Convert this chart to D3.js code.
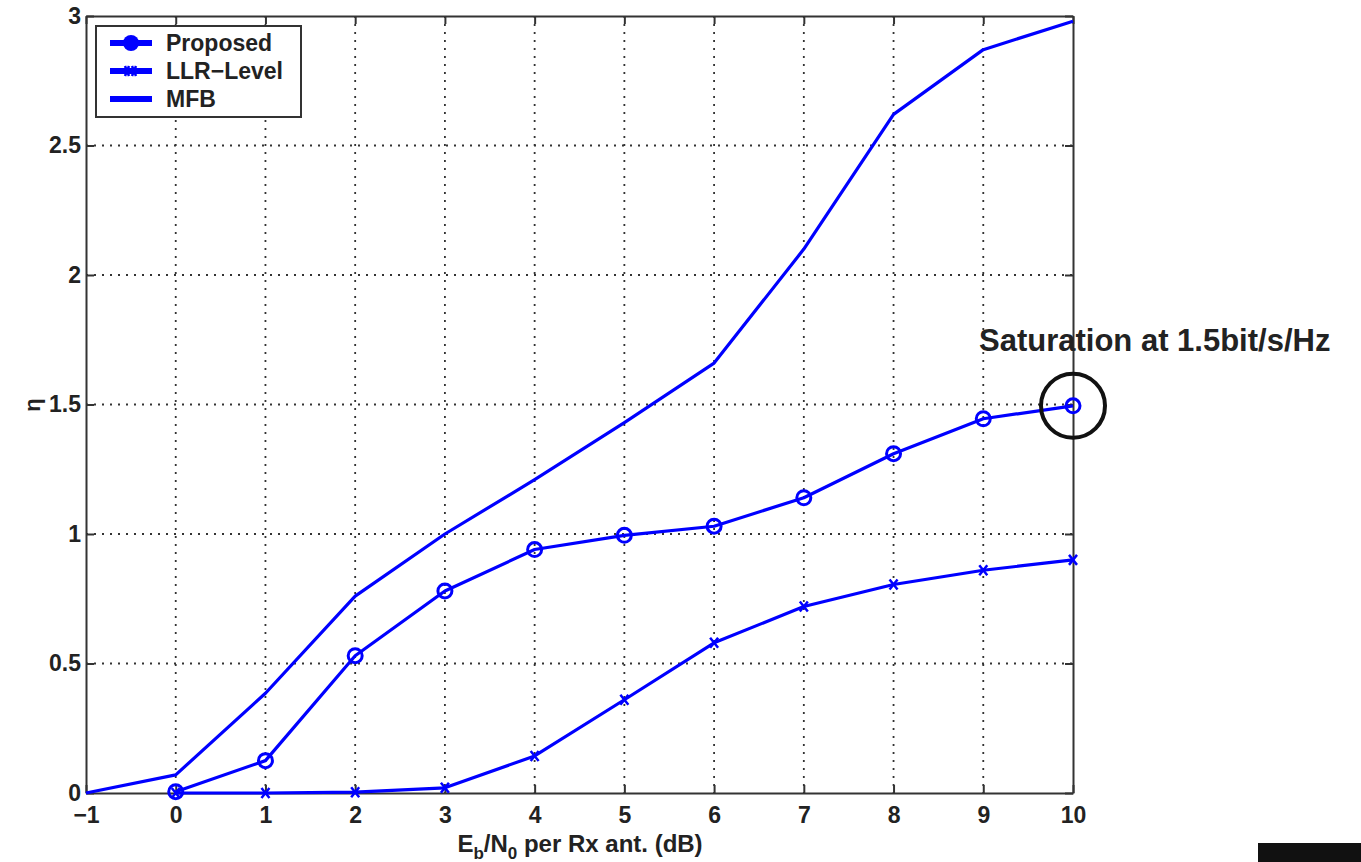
<!DOCTYPE html>
<html>
<head>
<meta charset="utf-8">
<script src="https://cdn.jsdelivr.net/npm/d3@7"></script>
<style>
  body { margin: 0; background: #fff; }
  text { font-family: "Liberation Sans", Arial, sans-serif; fill: #222; }
</style>
</head>
<body>
<div id="chart"></div>
<script>
// data
const ebno = [-1, 0, 1, 2, 3, 4, 5, 6, 7, 8, 9, 10];
const mfb = [0, 0.07, 0.385, 0.76, 1.0, 1.21, 1.43, 1.66, 2.1, 2.62, 2.87, 2.98];
const proposedX = [0, 1, 2, 3, 4, 5, 6, 7, 8, 9, 10];
const proposed = [0.005, 0.125, 0.53, 0.78, 0.94, 0.995, 1.03, 1.14, 1.31, 1.445, 1.495];
const llrX = [0, 1, 2, 3, 4, 5, 6, 7, 8, 9, 10];
const llr = [0, 0, 0.003, 0.02, 0.143, 0.36, 0.58, 0.72, 0.805, 0.86, 0.9];
const xTicks = [-1, 0, 1, 2, 3, 4, 5, 6, 7, 8, 9, 10];
const yTicks = [0, 0.5, 1, 1.5, 2, 2.5, 3];
const legendNames = ['Proposed', 'LLR\u2212Level', 'MFB'];

const width = 1361, height = 862;
const margin = {top: 16, right: 288, bottom: 69, left: 86};
const innerWidth = width - margin.left - margin.right;
const innerHeight = height - margin.top - margin.bottom;
const blue = '#0000ff';

const svg = d3.select('#chart').append('svg')
  .attr('width', width)
  .attr('height', height);

const g = svg.append('g')
  .attr('transform', `translate(${margin.left},${margin.top})`);

const xScale = d3.scaleLinear().domain([-1, 10]).range([0, innerWidth]);
const yScale = d3.scaleLinear().domain([0, 3]).range([innerHeight, 0]);

// grid
g.selectAll('.vgrid').data(xTicks.slice(1, -1)).enter().append('line')
  .attr('class', 'vgrid')
  .attr('x1', d => xScale(d)).attr('x2', d => xScale(d))
  .attr('y1', 0).attr('y2', innerHeight)
  .attr('stroke', '#333').attr('stroke-width', 1.8)
  .attr('stroke-dasharray', '2,6');

g.selectAll('.hgrid').data(yTicks.slice(1, -1)).enter().append('line')
  .attr('class', 'hgrid')
  .attr('y1', d => yScale(d)).attr('y2', d => yScale(d))
  .attr('x1', 0).attr('x2', innerWidth)
  .attr('stroke', '#333').attr('stroke-width', 1.8)
  .attr('stroke-dasharray', '2,6');

// axes
const xAxis = d3.axisBottom(xScale).tickValues(xTicks)
  .tickFormat(d => d < 0 ? '\u2212' + Math.abs(d) : d)
  .tickSizeInner(-8).tickSizeOuter(0).tickPadding(14);
const yAxis = d3.axisLeft(yScale).tickValues(yTicks)
  .tickFormat(d3.format('~g'))
  .tickSizeInner(-8).tickSizeOuter(0).tickPadding(5);
const xAxisTop = d3.axisTop(xScale).tickValues(xTicks).tickFormat('')
  .tickSizeInner(-8).tickSizeOuter(0);
const yAxisRight = d3.axisRight(yScale).tickValues(yTicks).tickFormat('')
  .tickSizeInner(-8).tickSizeOuter(0);

g.append('g').attr('transform', `translate(0,${innerHeight})`).call(xAxis);
g.append('g').call(yAxis);
g.append('g').call(xAxisTop);
g.append('g').attr('transform', `translate(${innerWidth},0)`).call(yAxisRight);

g.selectAll('.domain, .tick line').attr('stroke', '#333').attr('stroke-width', 2);
g.selectAll('.tick text')
  .attr('font-family', '"Liberation Sans", Arial, sans-serif')
  .attr('font-size', 23).attr('font-weight', 'bold').attr('fill', '#222');

// axis labels
const xLabel = svg.append('text')
  .attr('x', 580).attr('y', 852)
  .attr('text-anchor', 'middle')
  .attr('font-size', 24).attr('font-weight', 'bold');
xLabel.append('tspan').text('E');
xLabel.append('tspan').attr('font-size', 17).attr('dy', 7).text('b');
xLabel.append('tspan').attr('dy', -7).text('/N');
xLabel.append('tspan').attr('font-size', 17).attr('dy', 7).text('0');
xLabel.append('tspan').attr('dy', -7).text(' per Rx ant. (dB)');

svg.append('text')
  .attr('transform', 'translate(40,405) rotate(-90)')
  .attr('text-anchor', 'middle')
  .attr('font-size', 22).attr('font-weight', 'bold')
  .text('\u03b7');

// lines
const line = d3.line().x(d => xScale(d[0])).y(d => yScale(d[1]));

const mfbData = ebno.map((x, i) => [x, mfb[i]]);
const propData = proposedX.map((x, i) => [x, proposed[i]]);
const llrData = llrX.map((x, i) => [x, llr[i]]);

[mfbData, llrData, propData].forEach(data => {
  g.append('path')
    .attr('d', line(data))
    .attr('fill', 'none')
    .attr('stroke', blue)
    .attr('stroke-width', 3.2)
    .attr('stroke-linejoin', 'round');
});

// markers
g.selectAll('.llrMark').data(llrData).enter().append('path')
  .attr('class', 'llrMark')
  .attr('transform', d => `translate(${xScale(d[0])},${yScale(d[1])})`)
  .attr('d', 'M-4,-5L4,5M-4,5L4,-5')
  .attr('stroke', blue).attr('stroke-width', 2.5).attr('fill', 'none');

g.selectAll('.propMark').data(propData).enter().append('circle')
  .attr('class', 'propMark')
  .attr('cx', d => xScale(d[0])).attr('cy', d => yScale(d[1]))
  .attr('r', 7)
  .attr('fill', 'none').attr('stroke', blue).attr('stroke-width', 3);

// annotation
svg.append('text')
  .attr('x', 979).attr('y', 351)
  .attr('font-size', 31).attr('font-weight', 'bold')
  .text('Saturation at 1.5bit/s/Hz');
g.append('circle')
  .attr('cx', xScale(10)).attr('cy', yScale(proposed[proposed.length - 1]))
  .attr('r', 32)
  .attr('fill', 'none').attr('stroke', '#111').attr('stroke-width', 4);

// legend
const legend = svg.append('g').attr('transform', 'translate(96,26)');
legend.append('rect')
  .attr('width', 205).attr('height', 91)
  .attr('fill', '#fff').attr('stroke', '#333').attr('stroke-width', 2);
legendNames.forEach((name, i) => {
  const y = 17 + i * 28;
  const row = legend.append('g').attr('transform', `translate(0,${y})`);
  row.append('line')
    .attr('x1', 14).attr('x2', 56)
    .attr('stroke', blue).attr('stroke-width', 6);
  if (i === 0) {
    row.append('circle').attr('cx', 35).attr('r', 8).attr('fill', blue);
  } else if (i === 1) {
    row.append('path').attr('d', 'M29,-5L33,5M29,5L33,-5M36,-5L40,5M36,5L40,-5')
      .attr('stroke', blue).attr('stroke-width', 2.5);
  }
  row.append('text')
    .attr('x', 70).attr('y', 8)
    .attr('font-size', 23).attr('font-weight', 'bold')
    .text(name);
});

// corner block from the source image
svg.append('rect')
  .attr('x', 1258).attr('y', 843).attr('width', 103).attr('height', 19)
  .attr('fill', '#111');
</script>
</body>
</html>
